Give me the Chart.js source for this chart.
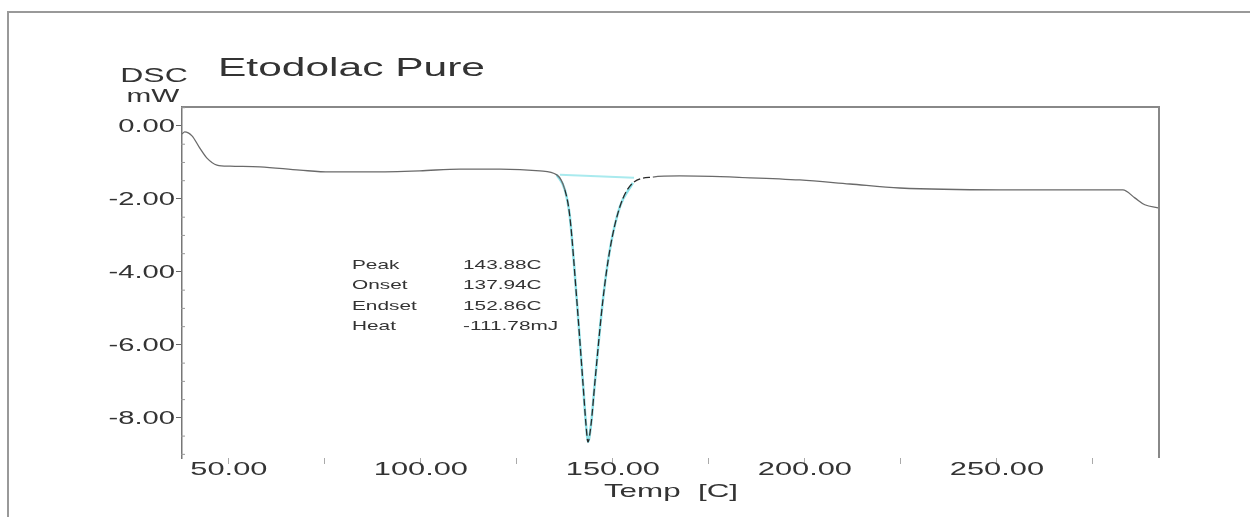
<!DOCTYPE html>
<html>
<head>
<meta charset="utf-8">
<script src="https://cdn.jsdelivr.net/npm/chart.js@4.4.1/dist/chart.umd.min.js"></script>
<style>
  body { margin: 0; background: #fff; }
</style>
</head>
<body>
<canvas id="dsc" width="1250" height="517"></canvas>
<script>
// DSC curve (temperature in C, heat flow in mW)
var temp = [37.8, 38.5, 40.4, 42.4, 44.3, 46.9, 50.3, 58.1, 68.5, 76.3, 86.7, 99.7, 110.2, 120.6, 131.0,
    135.4, 137.5, 138.8, 140.6, 142.2, 143.0, 143.5, 144.3, 145.3, 147.4, 149.2, 151.8, 155.2,
    160.4, 167.4, 185.7, 198.7, 211.7, 224.7, 250.8, 271.6, 282.8, 285.9, 288.5, 292.2];
var dsc = [-0.22, -0.16, -0.27, -0.60, -0.88, -1.07, -1.10, -1.12, -1.21, -1.26, -1.26, -1.23, -1.18, -1.18, -1.23,
    -1.34, -1.75, -2.49, -4.77, -7.04, -8.19, -8.66, -8.19, -7.04, -4.77, -3.40, -2.22, -1.56,
    -1.40, -1.37, -1.42, -1.48, -1.59, -1.70, -1.75, -1.75, -1.75, -1.97, -2.16, -2.25];

// integration baseline under the peak
var baseTemp = [136.2, 155.5];
var baseDsc = [-1.34, -1.42];

var peakLabels = ['Peak', 'Onset', 'Endset', 'Heat'];
var peakValues = ['143.88C', '137.94C', '152.86C', '-111.78mJ'];

var title = 'Etodolac Pure';
var xTitle = 'Temp  [C]';
var yTitle = ['DSC', 'mW'];

var curve = [], peak = [], base = [];
for (var i = 0; i < temp.length; i++) {
    curve.push({ x: temp[i], y: dsc[i] });
    if (temp[i] >= 135 && temp[i] <= 156) peak.push({ x: temp[i], y: dsc[i] });
}
for (var i = 0; i < baseTemp.length; i++) base.push({ x: baseTemp[i], y: baseDsc[i] });

var FONT = '"Liberation Sans", Arial, sans-serif';
var SX = 1.62; // the original print is stretched sideways

function wideText(ctx, str, x, y, size, sx, align) {
    ctx.save();
    ctx.translate(x, y);
    ctx.scale(sx, 1);
    ctx.font = size + 'px ' + FONT;
    ctx.fillStyle = '#333';
    ctx.textAlign = align;
    ctx.textBaseline = 'middle';
    ctx.fillText(str, 0, 0);
    ctx.restore();
}

var frame = {
    id: 'frame',
    afterDraw: function (chart) {
        var ctx = chart.ctx, a = chart.chartArea;
        var xs = chart.scales.x, ys = chart.scales.y;
        ctx.save();
        // outer sheet border
        ctx.strokeStyle = '#999';
        ctx.lineWidth = 2;
        ctx.beginPath();
        ctx.moveTo(8, 517);
        ctx.lineTo(8, 12);
        ctx.lineTo(1250, 12);
        ctx.stroke();
        // top and right of plot box
        ctx.strokeStyle = '#888';
        ctx.lineWidth = 2;
        ctx.beginPath();
        ctx.moveTo(a.left, a.top);
        ctx.lineTo(a.right, a.top);
        ctx.lineTo(a.right, a.bottom);
        ctx.stroke();
        // minor y ticks
        ctx.strokeStyle = '#999';
        ctx.lineWidth = 1;
        ys.ticks.forEach(function (t) {
            if (Math.abs(t.value % 2) > 0.01) {
                var py = ys.getPixelForValue(t.value);
                ctx.beginPath();
                ctx.moveTo(a.left - 1, py);
                ctx.lineTo(a.left + 3, py);
                ctx.stroke();
            }
        });
        ctx.restore();

        // tick labels
        ys.ticks.forEach(function (t) {
            if (Math.abs(t.value % 2) < 0.01) {
                var v = t.value === 0 ? 0 : t.value;
                wideText(ctx, v.toFixed(2), a.left - 7, ys.getPixelForValue(t.value) + 1, 18, SX, 'right');
            }
        });
        xs.ticks.forEach(function (t) {
            if (Math.abs(t.value % 50) < 0.01) {
                wideText(ctx, t.value.toFixed(2), xs.getPixelForValue(t.value), 470, 19, SX, 'center');
            }
        });

        // titles
        wideText(ctx, title, 218, 69, 25, 1.7, 'left');
        wideText(ctx, yTitle[0], 154, 76, 20, 1.6, 'center');
        wideText(ctx, yTitle[1], 153, 97, 18, 1.65, 'center');
        wideText(ctx, xTitle, 671, 492, 19, 1.65, 'center');

        // peak analysis table
        for (var i = 0; i < peakLabels.length; i++) {
            var py = 265 + i * 20.5;
            wideText(ctx, peakLabels[i], 352, py, 13, 1.6, 'left');
            wideText(ctx, peakValues[i], 463, py, 13, 1.6, 'left');
        }
    }
};

var ctx = document.getElementById('dsc').getContext('2d');
var chart = new Chart(ctx, {
    type: 'line',
    data: {
        datasets: [{
            data: curve,
            borderColor: '#6a6a6a',
            borderWidth: 1.3,
            pointRadius: 0,
            cubicInterpolationMode: 'monotone',
            order: 1,
            segment: {
                borderDash: function (c) {
                    var x = c.p0.parsed.x;
                    return (x >= 136 && x <= 156) ? [7, 3] : undefined;
                },
                borderColor: function (c) {
                    var x = c.p0.parsed.x;
                    return (x >= 136 && x <= 156) ? '#2a2a2a' : undefined;
                }
            }
        }, {
            data: peak,
            borderColor: 'rgba(120, 220, 228, 0.85)',
            borderWidth: 2.5,
            pointRadius: 0,
            cubicInterpolationMode: 'monotone',
            order: 2
        }, {
            data: base,
            borderColor: 'rgba(160, 232, 236, 0.9)',
            borderWidth: 2,
            pointRadius: 0,
            order: 3
        }]
    },
    options: {
        responsive: false,
        animation: false,
        devicePixelRatio: 1,
        layout: { padding: { left: 0, top: 107, right: 91, bottom: 0 } },
        plugins: { legend: { display: false }, tooltip: { enabled: false } },
        scales: {
            x: {
                type: 'linear',
                min: 37.8,
                max: 292.2,
                afterFit: function (s) { s.height = 59; },
                border: { display: false },
                grid: { drawOnChartArea: false, tickLength: 6, tickColor: '#aaa' },
                ticks: { display: false, stepSize: 25, includeBounds: false }
            },
            y: {
                min: -9.1,
                max: 0.52,
                afterFit: function (s) { s.width = 182; },
                border: { display: true, color: '#777', width: 1.5 },
                grid: {
                    drawOnChartArea: false,
                    tickLength: 6,
                    tickColor: function (c) {
                        return Math.abs(c.tick.value % 2) < 0.01 ? '#666' : 'rgba(0,0,0,0)';
                    }
                },
                ticks: { display: false, stepSize: 0.5, includeBounds: false }
            }
        }
    },
    plugins: [frame]
});
</script>
</body>
</html>
